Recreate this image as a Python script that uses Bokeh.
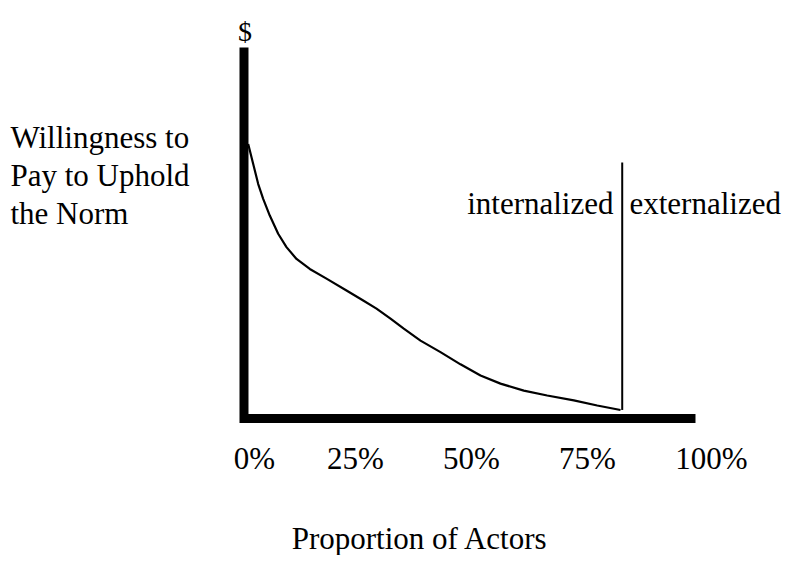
from bokeh.plotting import figure
from bokeh.models import Range1d
from bokeh.core.properties import value
from bokeh.embed import file_html
from bokeh.resources import INLINE

# ---- data ----
curve_x = [0.93, 2.04, 3.15, 4.25, 5.71, 7.57, 9.41, 11.63, 14.57, 18.27, 22.70, 26.40,
           29.35, 32.45, 35.39, 39.09, 43.52, 47.95, 52.38, 56.81, 61.97, 67.15, 73.05,
           78.23, 83.39]
curve_y = [74.0, 68.6, 63.2, 59.2, 54.7, 49.8, 46.2, 43.0, 40.3, 37.7, 34.5, 31.8,
           29.6, 26.9, 24.2, 21.0, 17.9, 14.6, 11.6, 9.4, 7.5, 6.2, 4.9,
           3.5, 2.3]
threshold_x = 83.77
threshold_top = 69.0
tick_values = [0, 25, 50, 75, 100]
tick_labels = ["0%", "25%", "50%", "75%", "100%"]
y_label_lines = ["Willingness to", "Pay to Uphold", "the Norm"]
x_title = "Proportion of Actors"
y_symbol = "$"
region_labels = ["internalized", "externalized"]

FONT = value("Liberation Serif")
FS = "31px"

p = figure(width=782, height=555, output_backend="svg", toolbar_location=None,
           x_range=Range1d(-53.93, 119.27), y_range=Range1d(-36.93, 112.67),
           x_axis_type=None, y_axis_type=None, min_border=0,
           outline_line_color=None, background_fill_color="white",
           border_fill_color="white")
p.grid.visible = False

# thick L-shaped axes
p.line([0, 0, 100], [100, 0, 0], line_width=9, line_color="black",
       line_join="miter", line_cap="butt")

# curve
p.line(curve_x, curve_y, line_width=2.2, line_color="black", line_join="round")
# threshold line
p.line([threshold_x, threshold_x], [curve_y[-1], threshold_top], line_width=2, line_color="black")

# tick labels
tick_offsets = [10.5, -1.4, 1.75, 4.9, 16]
p.text(x=tick_values, y=[-10.78] * len(tick_values), text=tick_labels,
       x_offset=tick_offsets, text_align="center", text_baseline="alphabetic",
       text_font=FONT, text_font_size=FS, text_color="black")

# x title
p.text(x=[38.98], y=[-32.35], text=[x_title], text_align="center",
       text_baseline="alphabetic", text_font=FONT, text_font_size=FS, text_color="black")

# $ symbol
p.text(x=[0.22], y=[104.3], text=[y_symbol], text_align="center",
       text_baseline="alphabetic", text_font=FONT, text_font_size="28px", text_color="black")

# y label lines
line_step = 38 / 3.71
p.text(x=[-51.72] * len(y_label_lines),
       y=[75.7 - i * line_step for i in range(len(y_label_lines))],
       text=y_label_lines, text_align="left", text_baseline="alphabetic",
       text_font=FONT, text_font_size=FS, text_color="black")

# region labels
p.text(x=[81.84, 85.38], y=[57.95, 57.95], text=region_labels,
       text_align=["right", "left"], text_baseline="alphabetic",
       text_font=FONT, text_font_size=FS, text_color="black")

open("out.html", "w").write(file_html(p, INLINE))
